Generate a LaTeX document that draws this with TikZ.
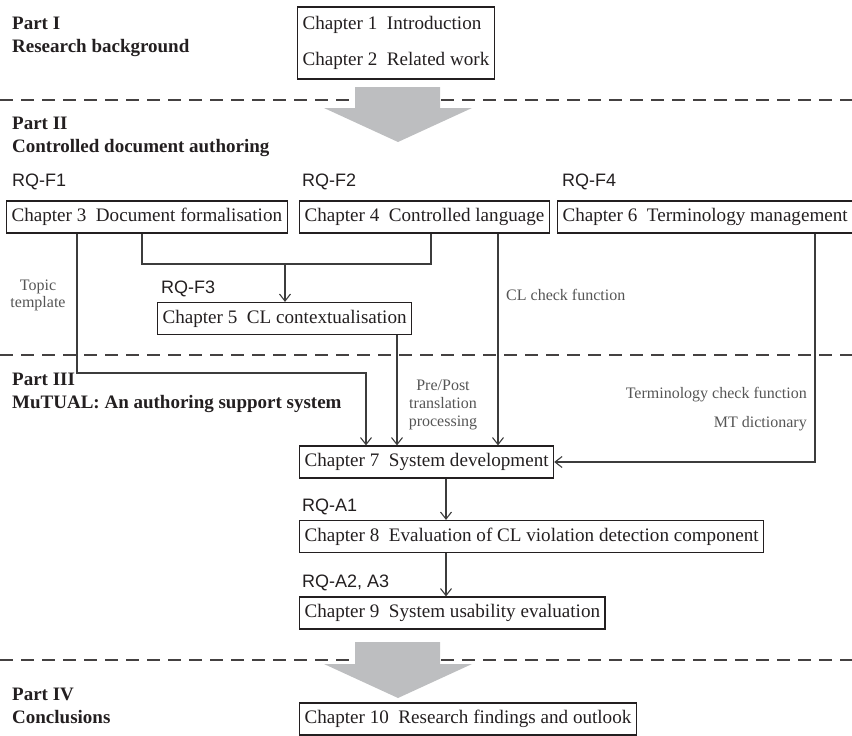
\documentclass[tikz,border=0pt]{standalone}
\usepackage{fontspec}
\setmainfont{Liberation Serif}
\newfontfamily\rqfont{Liberation Sans}
\usetikzlibrary{arrows.meta}
\definecolor{ink}{HTML}{231F20}
\definecolor{wiregray}{HTML}{3C3C3C}
\definecolor{notegray}{HTML}{555555}
\definecolor{arrowgray}{HTML}{BDBEC0}

\begin{document}
\begin{tikzpicture}[x=1pt,y=-1pt,
	chapbase/.style={draw=ink,line width=1.2pt,text=ink,anchor=west,inner xsep=5pt},
	chap/.style={chapbase,minimum height=32pt,text height=13pt,text depth=4pt,font=\fontsize{19.1}{22}\selectfont},
	rq/.style={anchor=west,inner sep=0pt,text=ink,font=\rqfont\fontsize{18}{20}\selectfont},
	part/.style={anchor=west,inner sep=0pt,align=left,text=ink,font=\bfseries\fontsize{19}{23}\selectfont},
	note/.style={inner sep=0pt,text=notegray,font=\fontsize{16}{18}\selectfont},
	wire/.style={draw=wiregray,line width=1.1pt},
	link/.style={wire,-{Straight Barb[length=7pt,width=11pt]}},
	sep/.style={draw=ink!85,line width=1.2pt,dash pattern=on 13pt off 8pt},
	bigarrow/.style={fill=arrowgray}]
	\useasboundingbox (0,0) rectangle (852,736);
	\draw[sep] (0,100) -- (852,100);
	\draw[sep] (0,355) -- (852,355);
	\draw[sep] (0,660) -- (852,660);
	\fill[bigarrow] (355,87) -- (440,87) -- (440,108) -- (472,108) -- (398,142) -- (324,108) -- (355,108) -- cycle;
	\fill[bigarrow] (355,642) -- (440,642) -- (440,664) -- (472,664) -- (398,698) -- (324,664) -- (355,664) -- cycle;
	\node[part] (p1) at (12,36.5) {Part I\\Research background};
	\node[part] (p2) at (12,136.5) {Part II\\Controlled document authoring};
	\node[part] (p3) at (12,393) {Part III\\MuTUAL: An authoring support system};
	\node[part] (p4) at (12,705.5) {Part IV\\Conclusions};
	\node[chapbase,align=left,minimum height=72pt,font=\fontsize{19.1}{36}\selectfont] (ch12) at (297,43) {Chapter~1\ \ Introduction\\Chapter~2\ \ Related work};
	\node[rq] (rqf1) at (12,182) {RQ-F1};
	\node[rq] (rqf2) at (302,182) {RQ-F2};
	\node[rq] (rqf4) at (562,182) {RQ-F4};
	\node[chap] (ch3) at (6,217) {Chapter~3\ \ Document formalisation};
	\node[chap] (ch4) at (299,217) {Chapter~4\ \ Controlled language};
	\node[chap] (ch6) at (557,217) {Chapter~6\ \ Terminology management};
	\node[rq] (rqf3) at (161,289) {RQ-F3};
	\node[chap] (ch5) at (157,318.5) {Chapter~5\ \ CL contextualisation};
	\node[chap] (ch7) at (299,462) {Chapter~7\ \ System development};
	\node[rq] (rqa1) at (302,507) {RQ-A1};
	\node[chap] (ch8) at (299,536.5) {Chapter~8\ \ Evaluation of CL violation detection component};
	\node[rq] (rqa23) at (302,583) {RQ-A2, A3};
	\node[chap] (ch9) at (299,613) {Chapter~9\ \ System usability evaluation};
	\node[chap] (ch10) at (299,719) {Chapter~10\ \ Research findings and outlook};
	\node[note,align=center,font=\fontsize{16}{17}\selectfont] (topic) at (38,295.5) {Topic\\template};
	\node[note,anchor=west] (clcheck) at (506,295) {CL check function};
	\node[note,align=center] (prepost) at (443,405) {Pre/Post\\translation\\processing};
	\node[note,anchor=east] (termcheck) at (807,395) {Terminology check function};
	\node[note,anchor=east] (mtdict) at (807,424) {MT dictionary};
	\coordinate (m1) at (142,264);
	\coordinate (m2) at (431,264);
	\coordinate (m3) at (285,264);
	\coordinate (t1) at (77,373);
	\coordinate (t2) at (366,373);
	\coordinate (x5) at (397,0);
	\coordinate (x4) at (498,0);
	\coordinate (x6) at (815,0);
	\coordinate (x7) at (446,0);
	\draw[wire] (ch3.south -| m1) -- (m1) -- (m2) -- (ch4.south -| m2);
	\draw[link] (m3) -- (m3 |- ch5.north);
	\draw[link] (ch3.south -| t1) -- (t1) -- (t2) -- (t2 |- ch7.north);
	\draw[link] (ch5.south -| x5) -- (ch7.north -| x5);
	\draw[link] (ch4.south -| x4) -- (ch7.north -| x4);
	\draw[link] (ch6.south -| x6) -- (x6 |- ch7.east) -- (ch7.east);
	\draw[link] (ch7.south -| x7) -- (ch8.north -| x7);
	\draw[link] (ch8.south -| x7) -- (ch9.north -| x7);
\end{tikzpicture}
\end{document}
